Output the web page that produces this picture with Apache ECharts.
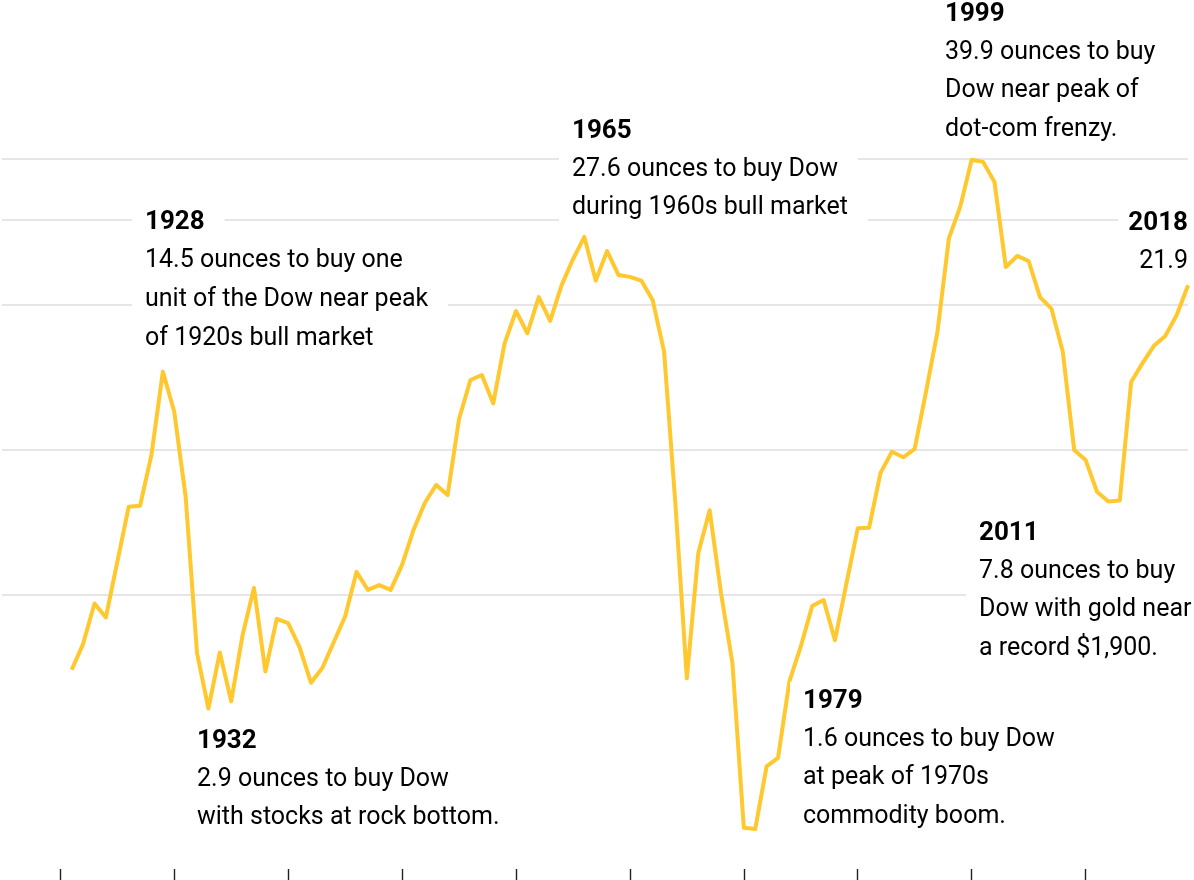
<!DOCTYPE html>
<html>
<head>
<meta charset="utf-8">
<script src="https://cdn.jsdelivr.net/npm/echarts@6/dist/echarts.min.js"></script>
<style>
  html, body { margin: 0; padding: 0; background: #fff; }
  #chart { width: 1194px; height: 880px; }
</style>
</head>
<body>
<div id="chart"></div>
<script>
// ---- data ----
const years = [
  1920, 1921, 1922, 1923, 1924, 1925, 1926, 1927, 1928, 1929,
  1930, 1931, 1932, 1933, 1934, 1935, 1936, 1937, 1938, 1939,
  1940, 1941, 1942, 1943, 1944, 1945, 1946, 1947, 1948, 1949,
  1950, 1951, 1952, 1953, 1954, 1955, 1956, 1957, 1958, 1959,
  1960, 1961, 1962, 1963, 1964, 1965, 1966, 1967, 1968, 1969,
  1970, 1971, 1972, 1973, 1974, 1975, 1976, 1977, 1978, 1979,
  1980, 1981, 1982, 1983, 1984, 1985, 1986, 1987, 1988, 1989,
  1990, 1991, 1992, 1993, 1994, 1995, 1996, 1997, 1998, 1999,
  2000, 2001, 2002, 2003, 2004, 2005, 2006, 2007, 2008, 2009,
  2010, 2011, 2012, 2013, 2014, 2015, 2016, 2017, 2018
];
// ounces of gold needed to buy one unit of the Dow
const ratio = [
  3.49, 3.95, 4.79, 4.48, 5.84, 7.60, 7.64, 9.74, 14.5, 11.97,
  7.98, 3.78, 2.9, 3.79, 3.00, 4.12, 5.16, 3.46, 4.45, 4.36,
  3.89, 3.28, 3.52, 3.98, 4.50, 5.57, 5.11, 5.23, 5.11, 5.76,
  6.80, 7.75, 8.44, 8.04, 11.56, 13.93, 14.27, 12.46, 16.6, 19.37,
  17.42, 20.7, 18.47, 21.9, 24.8, 27.6, 22.4, 25.8, 23.0, 22.8,
  22.4, 20.4, 15.95, 7.67, 3.35, 6.09, 7.48, 5.03, 3.60, 1.64,
  1.63, 2.20, 2.29, 3.30, 3.90, 4.73, 4.87, 4.02, 5.26, 6.86,
  6.88, 8.94, 9.89, 9.63, 10.02, 13.2, 17.55, 27.4, 31.9, 39.9,
  39.5, 35.9, 23.9, 25.2, 24.6, 20.7, 19.6, 15.95, 9.97, 9.51,
  8.17, 7.8, 7.83, 13.8, 15.1, 16.4, 17.2, 19.0, 21.9
];
const gridValues = [5, 10, 20, 30, 40];
const tickYears = [1919, 1929, 1939, 1949, 1959, 1969, 1979, 1989, 1999, 2009];

const annotations = [
  { year: '1928', lines: ['14.5 ounces to buy one', 'unit of the Dow near peak', 'of 1920s bull market'] },
  { year: '1932', lines: ['2.9 ounces to buy Dow', 'with stocks at rock bottom.'] },
  { year: '1965', lines: ['27.6 ounces to buy Dow', 'during 1960s bull market'] },
  { year: '1979', lines: ['1.6 ounces to buy Dow', 'at peak of 1970s', 'commodity boom.'] },
  { year: '1999', lines: ['39.9 ounces to buy', 'Dow near peak of', 'dot-com frenzy.'] },
  { year: '2011', lines: ['7.8 ounces to buy', 'Dow with gold near', 'a record $1,900.'] },
  { year: '2018', lines: ['21.9'] }
];

// ---- layout (pixel placement of annotation blocks) ----
const FONT = 'Roboto';
const FS = 25;
const FS_YEAR = 26;
const LH = 30;
const STEP = 38.6;
const blockPos = {
  '1928': { x: 145, y: 222.5 },
  '1932': { x: 197, y: 741 },
  '1965': { x: 572, y: 131 },
  '1979': { x: 803, y: 701 },
  '1999': { x: 945, y: 14 },
  '2011': { x: 979, y: 533 },
  '2018': { right: 6, y: 223 }
};

const titles = [];
annotations.forEach(a => {
  const p = blockPos[a.year];
  const all = [a.year].concat(a.lines);
  all.forEach((t, i) => {
    const yc = p.y + i * STEP;
    const item = {
      text: t,
      top: yc - LH / 2 - 4,
      backgroundColor: '#ffffff',
      z: 10,
      textStyle: {
        fontFamily: FONT,
        fontSize: i === 0 ? FS_YEAR : FS,
        fontWeight: i === 0 ? 'bold' : 'normal',
        color: '#000',
        lineHeight: LH
      }
    };
    if (p.right !== undefined) {
      item.right = p.right;
      item.padding = [4, 0, 4, 10];
    } else {
      item.left = p.x - 13;
      item.padding = [4, 20, 4, 13];
    }
    titles.push(item);
  });
});

const chart = echarts.init(document.getElementById('chart'), null, { renderer: 'canvas' });
chart.setOption({
  animation: false,
  backgroundColor: '#ffffff',
  title: titles,
  grid: { left: 2, right: 5.9, top: 0, bottom: 11, outerBoundsMode: 'none' },
  xAxis: {
    type: 'value',
    min: 1913.88,
    max: 2018,
    axisLine: { show: false },
    axisLabel: { show: false },
    splitLine: { show: false },
    axisTick: {
      show: true,
      inside: false,
      length: 14,
      customValues: tickYears,
      lineStyle: { color: '#222', width: 1.4 }
    }
  },
  yAxis: {
    type: 'log',
    logBase: 10,
    min: 1.347,
    max: 85.6,
    axisLine: { show: false },
    axisLabel: { show: false },
    axisTick: { show: false },
    splitLine: { show: false }
  },
  series: [{
    type: 'line',
    z: 3,
    data: years.map((y, i) => [y, ratio[i]]),
    showSymbol: false,
    symbol: 'none',
    lineStyle: { color: '#FFC82E', width: 4, join: 'round' },
    silent: true,
    markLine: {
      z: 1,
      silent: true,
      symbol: 'none',
      label: { show: false },
      lineStyle: { color: '#e6e6e6', width: 2, type: 'solid' },
      data: gridValues.map(v => ({ yAxis: v }))
    }
  }]
});
</script>
</body>
</html>
